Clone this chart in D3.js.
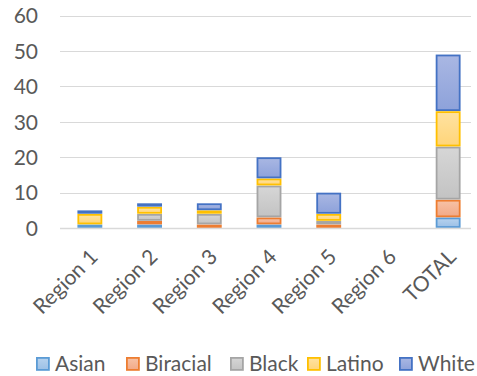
<!DOCTYPE html>
<html>
<head>
<meta charset="utf-8">
<script src="https://cdn.jsdelivr.net/npm/d3@7"></script>
<style>
  html, body { margin: 0; padding: 0; background: #fff; }
  svg { display: block; font-family: Lato, "Open Sans", sans-serif; }
</style>
</head>
<body>
<svg id="chart" width="477" height="376"></svg>
<script>
// Headcount by region, stacked by group
const categories = ["Region 1", "Region 2", "Region 3", "Region 4", "Region 5", "Region 6", "TOTAL"];
const seriesNames = ["Asian", "Biracial", "Black", "Latino", "White"];
const asian    = [1, 1, 0, 1, 0, 0, 3];
const biracial = [0, 1, 1, 2, 1, 0, 5];
const black    = [0, 2, 3, 9, 1, 0, 15];
const latino   = [3, 2, 1, 2, 2, 0, 10];
const white    = [1, 1, 2, 6, 6, 0, 16];
const yTicks   = [0, 10, 20, 30, 40, 50, 60];

const seriesValues = [asian, biracial, black, latino, white];
const styles = {
  Asian:    { top: "#b7d2ee", bottom: "#9cc0e6", stroke: "#5b9bd5" },
  Biracial: { top: "#f7c2a6", bottom: "#f2a987", stroke: "#ed7d31" },
  Black:    { top: "#d6d6d6", bottom: "#c3c3c3", stroke: "#a5a5a5" },
  Latino:   { top: "#ffe2a0", bottom: "#ffd57a", stroke: "#ffc000" },
  White:    { top: "#a9b7e3", bottom: "#8ea2da", stroke: "#4472c4" }
};
const fontSize = 21;

const rows = categories.map((c, i) => {
  const r = { category: c };
  seriesNames.forEach((s, k) => { r[s] = seriesValues[k][i]; });
  return r;
});

const svg = d3.select("#chart");
const margin = { left: 60, top: 15.5 };
const W = 478;

const x = d3.scaleBand().domain(categories).range([margin.left, W]).paddingInner(0.58).paddingOuter(0.29);
const y = d3.scaleLinear().domain([0, 60]).range([228, margin.top]);

// gradients
const defs = svg.append("defs");
seriesNames.forEach(s => {
  const g = defs.append("linearGradient").attr("id", "grad-" + s)
    .attr("x1", 0).attr("y1", 0).attr("x2", 0).attr("y2", 1);
  g.append("stop").attr("offset", "0%").attr("stop-color", styles[s].top);
  g.append("stop").attr("offset", "100%").attr("stop-color", styles[s].bottom);
});

// gridlines
svg.append("g")
  .selectAll("line").data(yTicks).join("line")
  .attr("x1", margin.left).attr("x2", 471)
  .attr("y1", d => Math.round(y(d)) + 0.5).attr("y2", d => Math.round(y(d)) + 0.5)
  .attr("stroke", "#d9d9d9").attr("stroke-width", 1.2);

// y axis labels
const yAxis = d3.axisLeft(y).tickValues(yTicks).tickSize(0).tickPadding(0);
svg.append("g").attr("transform", "translate(38,0)").call(yAxis)
  .call(g => g.select(".domain").remove())
  .call(g => g.selectAll("text").attr("fill", "#595959").attr("font-size", fontSize)
    .attr("font-family", "Lato, 'Open Sans', sans-serif").attr("dy", "0.35em"));

// stacked bars
const stacked = d3.stack().keys(seriesNames)(rows);
const bw = x.bandwidth();
svg.append("g").selectAll("g").data(stacked).join("g")
  .attr("fill", d => `url(#grad-${d.key})`)
  .attr("stroke", d => styles[d.key].stroke)
  .attr("stroke-width", 1.8)
  .selectAll("rect").data(d => d.filter(p => p[1] - p[0] > 0)).join("rect")
  .attr("x", d => x(d.data.category) + 1)
  .attr("y", d => y(d[1]) + 1)
  .attr("width", bw - 2)
  .attr("height", d => Math.max(0, y(d[0]) - y(d[1]) - 2));

// baseline
svg.append("line").attr("x1", margin.left).attr("x2", 471)
  .attr("y1", Math.round(y(0)) + 0.5).attr("y2", Math.round(y(0)) + 0.5)
  .attr("stroke", "#d9d9d9").attr("stroke-width", 1.5);

// x axis labels, rotated
const xAxis = d3.axisBottom(x).tickSize(0).tickPadding(0);
svg.append("g").attr("transform", "translate(0,236)").call(xAxis)
  .call(g => g.select(".domain").remove())
  .call(g => g.selectAll("text")
    .attr("fill", "#595959").attr("font-size", fontSize)
    .attr("font-family", "Lato, 'Open Sans', sans-serif")
    .attr("text-anchor", "end")
    .attr("dy", "0.35em")
    .attr("transform", "translate(4,17) rotate(-45)"));

// legend
const legend = svg.append("g").attr("font-size", fontSize).attr("fill", "#595959");
const legendX = [36, 126, 230, 307, 399];
seriesNames.forEach((s, i) => {
  const g = legend.append("g").attr("transform", `translate(${legendX[i]},357)`);
  g.append("rect").attr("x", 0.9).attr("y", 0.9).attr("width", 12).attr("height", 12)
    .attr("fill", `url(#grad-${s})`).attr("stroke", styles[s].stroke).attr("stroke-width", 1.8);
  g.append("text").attr("x", 19).attr("y", 14).attr("fill", "#595959").text(s);
});
</script>
</body>
</html>
